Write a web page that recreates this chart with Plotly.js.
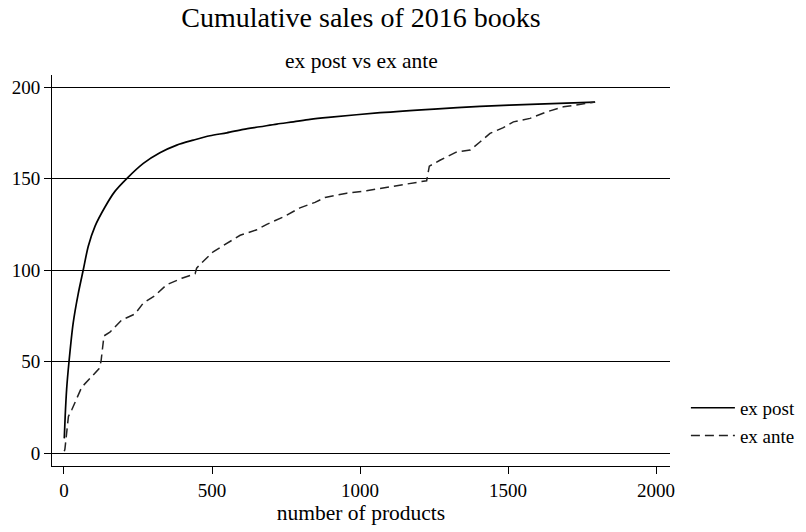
<!DOCTYPE html>
<html>
<head>
<meta charset="utf-8">
<script src="https://cdn.plot.ly/plotly-3.0.1.min.js"></script>
<style>
  html, body { margin: 0; padding: 0; background: #fff; }
  #chart { width: 806px; height: 532px; }
</style>
</head>
<body>
<div id="chart"></div>
<script>
// Cumulative sales (ex post ranking): number of products vs cumulative sales
const expostProducts = [1, 4, 9, 17, 31, 48, 65, 82, 105, 139, 172, 212, 268, 324, 381, 437, 493, 550, 606, 662, 719, 775, 831, 893, 1068, 1250, 1405, 1600, 1794];
const expostSales    = [8, 20, 35, 50, 71, 87, 100, 113, 124, 134.6, 143, 150, 158.3, 164.1, 168.3, 171, 173.4, 175, 176.9, 178.3, 179.8, 181, 182.3, 183.4, 186, 188, 189.4, 190.7, 191.8];

// Cumulative sales (ex ante ranking)
const exanteProducts = [1, 3, 15, 26, 60, 105, 118, 125, 135, 155, 195, 240, 268, 307, 347, 398, 443, 448, 459, 504, 550, 595, 651, 685, 741, 797, 848, 882, 955, 1022, 1101, 1135, 1225, 1234, 1270, 1327, 1372, 1405, 1439, 1484, 1518, 1574, 1631, 1687, 1754, 1794];
const exanteSales    = [1, 2, 20, 23.5, 36, 44, 46, 50, 64, 66, 72.7, 76, 82, 86, 92, 95.5, 98, 101, 103, 110, 114.6, 119, 122, 125, 129, 134, 137, 139.7, 142, 143.3, 145.5, 146.4, 148.8, 156.8, 160, 164.6, 165.6, 170, 174.7, 177.8, 181, 182.9, 186.5, 189.2, 191, 191.8];

const yTicks = [0, 50, 100, 150, 200];
const xTicks = [0, 500, 1000, 1500, 2000];

const serif = '"Liberation Serif", "Times New Roman", serif';

const traces = [
  {
    x: expostProducts, y: expostSales, type: 'scatter', mode: 'lines',
    name: 'ex post',
    line: { color: '#000000', width: 1.7, shape: 'spline', smoothing: 0.8 }
  },
  {
    x: exanteProducts, y: exanteSales, type: 'scatter', mode: 'lines',
    name: 'ex ante',
    line: { color: '#222222', width: 1.5, dash: '9px,5px' }
  }
];

const layout = {
  width: 806, height: 532,
  paper_bgcolor: '#ffffff', plot_bgcolor: '#ffffff',
  margin: { l: 52, r: 136, t: 75, b: 66 },
  font: { family: serif, size: 19, color: '#000' },
  title: {
    text: 'Cumulative sales of 2016 books',
    font: { family: serif, size: 28, color: '#000' },
    x: 0.5, xref: 'paper', xanchor: 'center',
    y: 0.968, yref: 'container', yanchor: 'middle'
  },
  annotations: [{
    text: 'ex post vs ex ante',
    xref: 'paper', yref: 'paper', x: 0.5, y: 1.0, yshift: 14.5,
    xanchor: 'center', yanchor: 'middle', showarrow: false,
    font: { family: serif, size: 21.5, color: '#000' }
  }],
  xaxis: {
    range: [-40.5, 2047],
    tickvals: xTicks, ticktext: xTicks.map(String),
    ticks: 'outside', ticklen: 7, tickwidth: 1, tickcolor: '#000',
    showline: true, linecolor: '#000', linewidth: 1,
    showgrid: false, zeroline: false, automargin: false,
    tickfont: { family: serif, size: 19, color: '#000' },
    title: { text: 'number of products', font: { family: serif, size: 21.5, color: '#000' }, standoff: 0 }
  },
  yaxis: {
    range: [-7.1, 206.6],
    tickvals: yTicks, ticktext: yTicks.map(String),
    ticks: 'outside', ticklen: 7, tickwidth: 1, tickcolor: '#000',
    showline: true, linecolor: '#000', linewidth: 1,
    showgrid: true, gridcolor: '#000', gridwidth: 1,
    zeroline: false, automargin: false,
    tickfont: { family: serif, size: 19, color: '#000' }
  },
  legend: {
    xref: 'container', yref: 'container',
    x: 0.851, xanchor: 'left', y: 0.207, yanchor: 'middle',
    orientation: 'v', bgcolor: 'rgba(0,0,0,0)',
    font: { family: serif, size: 19, color: '#000' },
    tracegroupgap: 0, itemwidth: 44
  },
  showlegend: true
};

Plotly.newPlot('chart', traces, layout, { staticPlot: true, displayModeBar: false });
</script>
</body>
</html>
